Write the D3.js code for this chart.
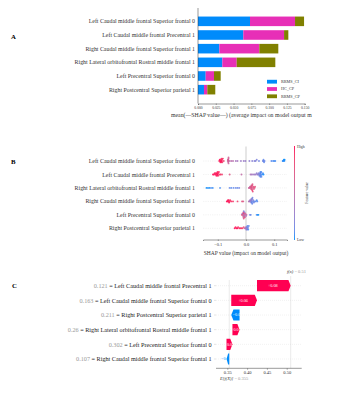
<!DOCTYPE html>
<html>
<head>
<meta charset="utf-8">
<script src="https://cdn.jsdelivr.net/npm/d3@7"></script>
<style>
  html, body { margin: 0; padding: 0; background: #fff; }
  svg { display: block; font-family: "Liberation Serif", "DejaVu Serif", serif; }
</style>
</head>
<body>
<svg id="chart" width="351" height="400"></svg>
<script>
// ---- data ----
const barFeatures = [
  "Left Caudal middle frontal Superior frontal 0",
  "Left Caudal middle frontal Precentral 1",
  "Right Caudal middle frontal Superior frontal 1",
  "Right Lateral orbitofrontal Rostral middle frontal 1",
  "Left Precentral Superior frontal 0",
  "Right Postcentral Superior parietal 1"
];
const classNames = ["RRMS_CI", "HC_CP", "RRMS_CP"];
const rrmsCI = [0.0731, 0.0637, 0.0300, 0.0342, 0.0108, 0.0084];
const hcCP   = [0.0633, 0.0573, 0.0562, 0.0202, 0.0117, 0.0047];
const rrmsCP = [0.0127, 0.0060, 0.0267, 0.0543, 0.0094, 0.0112];
const barTicks = [0, 0.025, 0.05, 0.075, 0.1, 0.125, 0.15];

const swarmFeatures = [
  "Left Caudal middle frontal Superior frontal 0",
  "Left Caudal middle frontal Precentral 1",
  "Right Lateral orbitofrontal Rostral middle frontal 1",
  "Right Caudal middle frontal Superior frontal 1",
  "Left Precentral Superior frontal 0",
  "Right Postcentral Superior parietal 1"
];
// [shap value, feature value 0..1]
const swarmPoints = [
  [[-0.095,0.95],[-0.093,1],[-0.091,0.95],[-0.090,1],[-0.089,0.92],[-0.088,0.97],[-0.087,0.9],[-0.086,1],
   [-0.085,0.93],[-0.084,0.9],[-0.082,0.95],[-0.079,0.85],[-0.064,0.62],[-0.064,0.6],[-0.063,0.58],[-0.063,0.6],
   [-0.063,0.55],[-0.062,0.6],[-0.062,0.57],[-0.062,0.62],[-0.058,0.5],[-0.052,0.45],[-0.046,0.45],[-0.036,0.35],
   [-0.030,0.35],[-0.018,0.3],[-0.008,0.3],[-0.002,0.28],[0.012,0.25],[0.022,0.22],[0.030,0.2],[0.034,0.2],
   [0.038,0.18],[0.046,0.15],[0.060,0.15],[0.062,0.12],[0.062,0.1],[0.064,0.1],[0.066,0.12],[0.090,0.08],
   [0.096,0.05],[0.100,0.05],[0.104,0.05],[0.130,0.02],[0.132,0.02],[0.134,0],[0.136,0.02],[0.137,0]],
  [[-0.117,1],[-0.114,0.95],[-0.111,0.97],[-0.109,1],[-0.107,0.93],[-0.105,1],[-0.104,0.95],[-0.103,1],
   [-0.102,0.92],[-0.101,0.97],[-0.100,1],[-0.099,0.95],[-0.098,0.9],[-0.096,0.97],[-0.093,0.9],[-0.090,0.9],
   [-0.085,0.85],[-0.058,0.7],[-0.016,0.5],[0.016,0.4],[0.020,0.35],[0.025,0.35],[0.030,0.3],[0.034,0.3],
   [0.038,0.25],[0.040,0.3],[0.043,0.2],[0.045,0.2],[0.047,0.15],[0.048,0.2],[0.050,0.1],[0.050,0.15],
   [0.051,0.1],[0.051,0.05],[0.052,0.1],[0.052,0.08],[0.053,0.05],[0.054,0.05],[0.055,0.1],[0.057,0.05],
   [0.060,0.05],[0.062,0]],
  [[-0.140,0],[-0.135,0.02],[-0.130,0],[-0.124,0.05],[-0.118,0.02],[-0.092,0.05],[-0.058,0.1],[-0.052,0.08],
   [-0.044,0.1],[-0.036,0.12],[-0.030,0.1],[-0.024,0.15],[0.010,0.5],[0.012,0.6],[0.014,0.55],[0.016,0.7],
   [0.017,0.6],[0.018,0.75],[0.019,0.65],[0.020,0.8],[0.020,0.7],[0.021,0.6],[0.022,0.75],[0.022,0.85],
   [0.023,0.7],[0.024,0.8],[0.025,0.65],[0.026,0.75],[0.028,0.7],[0.030,0.8],[0.032,0.75]],
  [[-0.068,1],[-0.066,0.95],[-0.064,1],[-0.062,0.97],[-0.061,0.93],[-0.060,1],[-0.058,0.95],[-0.056,0.9],
   [-0.052,0.95],[-0.046,0.9],[-0.030,0.85],[-0.014,0.75],[-0.010,0.7],[0.010,0.45],[0.012,0.35],[0.014,0.3],
   [0.016,0.25],[0.017,0.3],[0.018,0.2],[0.019,0.25],[0.020,0.15],[0.020,0.2],[0.021,0.1],[0.022,0.2],
   [0.022,0.12],[0.023,0.15],[0.025,0.1],[0.026,0.2],[0.028,0.15],[0.030,0.1],[0.034,0.1],[0.038,0.05],
   [0.040,0.08]],
  [[-0.015,0.7],[-0.013,0.4],[-0.012,0.8],[-0.011,0.3],[-0.010,0.6],[-0.009,0.9],[-0.009,0.5],[-0.008,0.2],
   [-0.008,0.7],[-0.007,0.4],[-0.007,0.85],[-0.006,0.55],[-0.005,0.3],[-0.004,0.75],[-0.003,0.45],[-0.002,0.6],
   [0.000,0.35],[0.002,0.5],[0.014,0.1],[0.017,0.12],[0.038,0.05],[0.041,0.02],[0.044,0]],
  [[-0.040,1],[-0.037,0.97],[-0.034,0.95],[-0.031,1],[-0.028,0.93],[-0.024,0.95],[-0.020,0.9],[-0.016,0.92],
   [-0.012,0.85],[-0.008,0.8],[-0.004,0.6],[-0.002,0.3],[0.000,0.4],[0.001,0.2],[0.002,0.35],[0.003,0.15],
   [0.004,0.25],[0.005,0.1],[0.006,0.2],[0.007,0.1],[0.008,0.05],[0.010,0.1]]
];
const swarmTicks = [-0.1, 0, 0.1];

const wfFeatures = [
  "Left Caudal middle frontal Precentral 1",
  "Left Caudal middle frontal Superior frontal 0",
  "Right Postcentral Superior parietal 1",
  "Right Lateral orbitofrontal Rostral middle frontal 1",
  "Left Precentral Superior frontal 0",
  "Right Caudal middle frontal Superior frontal 1"
];
const wfFeatureValues = ["0.121", "0.163", "0.211", "0.26", "0.302", "0.107"];
const wfShap = [0.085, 0.065, -0.021, 0.018, 0.015, -0.007];
const wfText = ["+0.08", "+0.06", "\u22120.0", "+0.0", "+0.0", "\u22120"];
const baseValue = 0.355;
const fxValue = 0.51;
const wfTicks = [0.35, 0.40, 0.45, 0.50];

// ---- chart ----
const svg = d3.select("#chart");
const blue = "#008bfb", red = "#ff0052";
const classColors = ["#008bfb", "#e72fb7", "#808000"];
const labelColor = "#333";
const labelSize = 5.9;

function panelLetter(t, x, y) {
  svg.append("text").attr("x", x).attr("y", y).attr("font-size", 6.8)
    .attr("font-weight", "bold").attr("fill", "#000").text(t);
}

// A: stacked bar of mean |SHAP|
{
  const g = svg.append("g");
  const x = d3.scaleLinear().domain([0, 0.15]).range([198, 304.7]);
  const y = d3.scaleBand().domain(barFeatures).range([14.5, 96.5]).paddingInner(0.3).paddingOuter(0.15);
  const rows = barFeatures.map((f, i) => ({ f, RRMS_CI: rrmsCI[i], HC_CP: hcCP[i], RRMS_CP: rrmsCP[i] }));
  const series = d3.stack().keys(classNames)(rows);

  g.selectAll("g.s").data(series).join("g").attr("fill", (d, i) => classColors[i])
    .selectAll("rect").data(d => d).join("rect")
    .attr("x", d => x(d[0])).attr("width", d => x(d[1]) - x(d[0]))
    .attr("y", d => y(d.data.f)).attr("height", y.bandwidth());

  g.append("line").attr("x1", 198).attr("x2", 198).attr("y1", 8).attr("y2", 103.5)
    .attr("stroke", "#333").attr("stroke-width", 0.5);

  g.selectAll("text.lab").data(barFeatures).join("text")
    .attr("x", 195).attr("y", d => y(d) + y.bandwidth() / 2).attr("dy", "0.35em")
    .attr("text-anchor", "end").attr("font-size", labelSize).attr("fill", labelColor).text(d => d);

  const ax = g.append("g").attr("transform", "translate(0,103.5)")
    .call(d3.axisBottom(x).tickValues(barTicks).tickFormat(d3.format(".3f")).tickSize(1.5).tickPadding(1.5));
  ax.select(".domain").attr("stroke", "#333").attr("stroke-width", 0.5);
  ax.selectAll(".tick line").attr("stroke", "#333").attr("stroke-width", 0.4);
  ax.selectAll("text").attr("font-size", 3.7).attr("fill", labelColor).attr("font-family", "Liberation Serif");

  g.append("text").attr("x", 171).attr("y", 116.5).attr("font-size", 5.8).attr("fill", labelColor)
    .text("mean(\u2014SHAP value\u2014) (average impact on model output m");

  const lg = g.append("g");
  classNames.forEach((c, i) => {
    lg.append("rect").attr("x", 267).attr("y", 79.8 + i * 7.3).attr("width", 10).attr("height", 3.8)
      .attr("fill", classColors[i]);
    lg.append("text").attr("x", 281).attr("y", 81.7 + i * 7.3).attr("dy", "0.35em")
      .attr("font-size", 4.2).attr("fill", labelColor).text(c);
  });
  panelLetter("A", 11, 39);
}

// B: beeswarm
{
  const g = svg.append("g");
  const x = d3.scaleLinear().domain([-0.1525, 0.1454]).range([203, 287]);
  const y = d3.scalePoint().domain(swarmFeatures).range([161, 228.3]);
  const color = d3.scaleLinear().domain([0, 1]).range([blue, red]).interpolate(d3.interpolateLab);

  swarmFeatures.forEach(f => {
    g.append("line").attr("x1", 203).attr("x2", 287).attr("y1", y(f)).attr("y2", y(f))
      .attr("stroke", "#ccc").attr("stroke-width", 0.4).attr("stroke-dasharray", "0.6,1.2");
  });
  g.append("line").attr("x1", x(0)).attr("x2", x(0)).attr("y1", 146.5).attr("y2", 239.5)
    .attr("stroke", "#999").attr("stroke-width", 0.5);

  const r = 0.95;
  swarmPoints.forEach((pts, i) => {
    const cy = y(swarmFeatures[i]);
    const bins = d3.group(pts, p => Math.round(x(p[0]) / 1.3));
    const placed = [];
    bins.forEach(list => {
      list.forEach((p, k) => {
        const off = k === 0 ? 0 : Math.ceil(k / 2) * (k % 2 ? -1 : 1) * 1.2;
        placed.push({ cx: x(p[0]), cy: cy + off, fv: p[1] });
      });
    });
    g.selectAll(null).data(placed).join("circle")
      .attr("cx", d => d.cx).attr("cy", d => d.cy).attr("r", r)
      .attr("fill", d => color(d.fv)).attr("fill-opacity", 0.85);
  });

  g.selectAll("text.lab").data(swarmFeatures).join("text")
    .attr("x", 195).attr("y", d => y(d)).attr("dy", "0.35em")
    .attr("text-anchor", "end").attr("font-size", labelSize).attr("fill", labelColor).text(d => d);

  const ax = g.append("g").attr("transform", "translate(0,239.5)")
    .call(d3.axisBottom(x).tickValues(swarmTicks).tickFormat(d => d === 0 ? "0.0" : d3.format(".1f")(d)).tickSize(1.5).tickPadding(1.5));
  ax.select(".domain").attr("stroke", "#333").attr("stroke-width", 0.5);
  ax.selectAll(".tick line").attr("stroke", "#333").attr("stroke-width", 0.4);
  ax.selectAll("text").attr("font-size", 4.4).attr("fill", labelColor).attr("font-family", "Liberation Serif");

  g.append("text").attr("x", 246).attr("y", 254.5).attr("text-anchor", "middle")
    .attr("font-size", 5.5).attr("fill", labelColor).text("SHAP value (impact on model output)");

  const defs = svg.append("defs");
  const grad = defs.append("linearGradient").attr("id", "cbar").attr("x1", 0).attr("x2", 0).attr("y1", 1).attr("y2", 0);
  d3.range(0, 1.01, 0.1).forEach(t => grad.append("stop").attr("offset", t).attr("stop-color", color(t)));
  g.append("rect").attr("x", 294).attr("y", 146).attr("width", 0.9).attr("height", 94).attr("fill", "url(#cbar)");
  g.append("text").attr("x", 297).attr("y", 147.5).attr("font-size", 3.8).attr("fill", labelColor).text("High");
  g.append("text").attr("x", 297).attr("y", 241).attr("font-size", 3.8).attr("fill", labelColor).text("Low");
  g.append("text").attr("transform", "translate(308,193) rotate(-90)").attr("text-anchor", "middle")
    .attr("font-size", 4).attr("fill", labelColor).text("Feature value");
  panelLetter("B", 11, 164);
}

// C: waterfall
{
  const g = svg.append("g");
  const x = d3.scaleLinear().domain([0.35, 0.50]).range([227.3, 286.7]);
  const y = d3.scalePoint().domain(d3.range(wfFeatures.length)).range([285.7, 359]);
  const h = 11.2;

  // cumulative positions from the bottom (base value) upward
  const n = wfShap.length;
  const starts = new Array(n);
  let acc = baseValue;
  for (let i = n - 1; i >= 0; i--) { starts[i] = acc; acc += wfShap[i]; }

  wfFeatures.forEach((f, i) => {
    g.append("line").attr("x1", 216).attr("x2", 301.7).attr("y1", y(i)).attr("y2", y(i))
      .attr("stroke", "#ddd").attr("stroke-width", 0.4).attr("stroke-dasharray", "1,1");
  });
  [baseValue, fxValue].forEach((v, k) => {
    g.append("line").attr("x1", x(v)).attr("x2", x(v)).attr("y1", k ? 276 : 280).attr("y2", 368.3)
      .attr("stroke", "#ccc").attr("stroke-width", 0.4);
  });

  wfShap.forEach((s, i) => {
    const x0 = x(starts[i]), x1 = x(starts[i] + s);
    const cy = y(i);
    const dir = s >= 0 ? 1 : -1;
    const w = Math.abs(x1 - x0);
    const head = Math.min(2.2, w * 0.6);
    const pts = [[x0, cy - h / 2], [x1 - dir * head, cy - h / 2], [x1, cy], [x1 - dir * head, cy + h / 2], [x0, cy + h / 2]];
    g.append("path").attr("d", d3.line()(pts) + "Z").attr("fill", s >= 0 ? red : blue);
    if (w > 4) {
      g.append("text").attr("x", (x0 + x1) / 2 - dir * head / 2).attr("y", cy).attr("dy", "0.35em")
        .attr("text-anchor", "middle").attr("font-size", 4.2).attr("fill", "#fff").text(wfText[i]);
    } else {
      g.append("text").attr("x", Math.min(x0, x1) - 1).attr("y", cy).attr("dy", "0.35em")
        .attr("text-anchor", "end").attr("font-size", 4.2).attr("fill", s >= 0 ? red : blue).text(wfText[i]);
    }
  });

  wfFeatures.forEach((f, i) => {
    const t = g.append("text").attr("x", 211.7).attr("y", y(i)).attr("dy", "0.35em")
      .attr("text-anchor", "end").attr("font-size", 6.2);
    t.append("tspan").attr("fill", "#999").text(wfFeatureValues[i] + " ");
    t.append("tspan").attr("fill", "#222").text("= " + f);
    g.append("line").attr("x1", 214).attr("x2", 216).attr("y1", y(i)).attr("y2", y(i))
      .attr("stroke", "#bbb").attr("stroke-width", 0.4);
  });

  const ax = g.append("g").attr("transform", "translate(0,368.3)")
    .call(d3.axisBottom(x).tickValues(wfTicks).tickFormat(d3.format(".2f")).tickSize(1.5).tickPadding(1.5));
  ax.select(".domain").attr("d", "M216,0H301.7").attr("stroke", "#333").attr("stroke-width", 0.5);
  ax.selectAll(".tick line").attr("stroke", "#333").attr("stroke-width", 0.4);
  ax.selectAll("text").attr("font-size", 4.5).attr("fill", labelColor).attr("font-family", "Liberation Serif");

  const e = g.append("text").attr("x", 220).attr("y", 379.5).attr("font-size", 4.5);
  e.append("tspan").attr("fill", "#333").attr("font-style", "italic").text("E[f(X)]");
  e.append("tspan").attr("fill", "#999").text(" = " + baseValue);
  const fx = g.append("text").attr("x", 287).attr("y", 272.5).attr("font-size", 4.5);
  fx.append("tspan").attr("fill", "#333").attr("font-style", "italic").text("f(x)");
  fx.append("tspan").attr("fill", "#999").text(" = " + fxValue);
  panelLetter("C", 12, 287.5);
}
</script>
</body>
</html>
